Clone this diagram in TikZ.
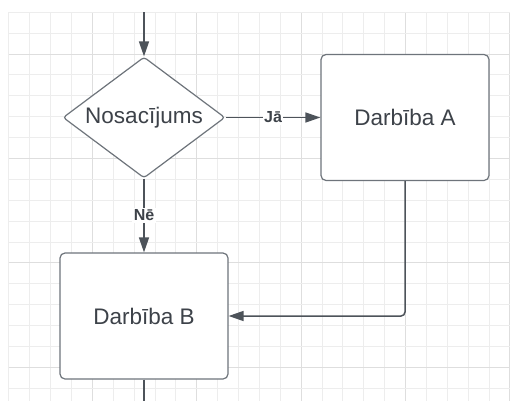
\documentclass[tikz,border=0pt]{standalone}
\usepackage{fontspec}
\setmainfont{Liberation Sans}
\usetikzlibrary{shapes.geometric,arrows.meta}

\definecolor{gridminor}{HTML}{EDEDED}
\definecolor{gridmajor}{HTML}{DEDEDE}
\definecolor{inkline}{HTML}{4D535A}
\definecolor{inkborder}{HTML}{6E747B}
\definecolor{inktext}{HTML}{3D4249}

\tikzset{
  gridline/.style={draw=gridminor, line width=0.9pt},
  gridbold/.style={draw=gridmajor, line width=1.1pt},
  decision/.style={diamond, draw=inkborder, line width=1.2pt, fill=white,
    minimum width=162pt, minimum height=121pt, shape aspect=1.34,
    inner sep=0pt, rounded corners=3pt, text=inktext,
    font=\fontsize{22.5}{24}\selectfont},
  action/.style={rectangle, draw=inkborder, line width=1.2pt, fill=white,
    minimum width=168pt, minimum height=126pt, rounded corners=5pt,
    text=inktext, font=\fontsize{22.5}{24}\selectfont},
  branch/.style={fill=white, inner sep=1.5pt, text=inktext,
    font=\bfseries\fontsize{16}{17}\selectfont},
  link/.style={draw=inkline, line width=1.5pt},
  flow/.style={link, -{Triangle[length=15pt,width=10pt]}},
}

\begin{document}
\begin{tikzpicture}[x=1pt, y=-1pt]
  \useasboundingbox (0,0) rectangle (510,401);
  \fill[white] (0,0) rectangle (510,401);

  % background grid: minor cells with a heavier line every fifth
  \foreach \k in {0,...,24} {
    \pgfmathsetmacro{\gx}{8.8+\k*20.88}
    \pgfmathtruncatemacro{\isMajor}{mod(\k+1,5)==0}
    \ifnum\isMajor=1
      \draw[gridbold] (\gx,12.3) -- (\gx,401);
    \else
      \draw[gridline] (\gx,12.3) -- (\gx,401);
    \fi
  }
  \foreach \j in {0,...,18} {
    \pgfmathsetmacro{\gy}{12.3+\j*20.88}
    \pgfmathtruncatemacro{\isMajor}{mod(\j+3,5)==0}
    \ifnum\isMajor=1
      \draw[gridbold] (8.8,\gy) -- (510,\gy);
    \else
      \draw[gridline] (8.8,\gy) -- (510,\gy);
    \fi
  }

  % flowchart nodes
  \node[decision] (cond) at (144,117.5) {Nosacījums};
  \node[action] (actA) at (405,117.5) {Darbība A};
  \node[action] (actB) at (144,316) {Darbība B};

  \coordinate (entry) at (144,12.3);
  \coordinate (exit) at (144,401);

  % connectors
  \draw[flow] (entry) -- (cond.north);
  \draw[flow] (cond.east) -- node[branch] {Jā} (actA.west);
  \draw[flow] (cond.south) -- node[branch] {Nē} (actB.north);
  \draw[flow, rounded corners=4pt] (actA.south) |- (actB.east);
  \draw[link] (actB.south) -- (exit);
\end{tikzpicture}
\end{document}
